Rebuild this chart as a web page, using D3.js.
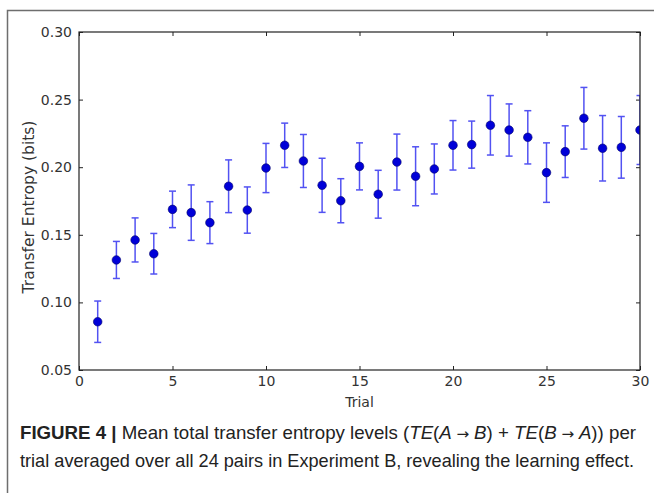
<!DOCTYPE html>
<html>
<head>
<meta charset="utf-8">
<script src="https://cdn.jsdelivr.net/npm/d3@7"></script>
<style>
  body { margin: 0; background: #fff; }
  svg { display: block; }
</style>
</head>
<body>
<div id="chart"></div>
<script>
// data
var trials = [1, 2, 3, 4, 5, 6, 7, 8, 9, 10, 11, 12, 13, 14, 15,
              16, 17, 18, 19, 20, 21, 22, 23, 24, 25, 26, 27, 28, 29, 30];
var meanTE = [0.0857, 0.1314, 0.1462, 0.1360, 0.1688, 0.1664, 0.1590, 0.1859, 0.1683, 0.1994,
              0.2162, 0.2046, 0.1866, 0.1752, 0.2006, 0.1800, 0.2038, 0.1933, 0.1987, 0.2162,
              0.2167, 0.2310, 0.2275, 0.2221, 0.1960, 0.2115, 0.2362, 0.2140, 0.2147, 0.2275];
var errTE = [0.0153, 0.0137, 0.0163, 0.0150, 0.0135, 0.0205, 0.0155, 0.0195, 0.0171, 0.0182,
             0.0164, 0.0196, 0.0200, 0.0163, 0.0174, 0.0177, 0.0207, 0.0218, 0.0185, 0.0183,
             0.0174, 0.0220, 0.0193, 0.0197, 0.0220, 0.0191, 0.0228, 0.0242, 0.0228, 0.0255];
var xTicks = [0, 5, 10, 15, 20, 25, 30];
var yTicks = [0.05, 0.10, 0.15, 0.20, 0.25, 0.30];

var W = 654, H = 493;
var margin = {top: 32, right: 14, bottom: 123, left: 79},
    width = W - margin.left - margin.right,
    height = H - margin.top - margin.bottom;

var svg = d3.select("#chart").append("svg")
    .attr("width", W)
    .attr("height", H);

// outer frame of the figure panel (left + top only)
svg.append("path")
    .attr("d", "M7.5," + H + "V10.5H" + W)
    .attr("fill", "none")
    .attr("stroke", "#6e6e6e")
    .attr("stroke-width", 1.5);

var g = svg.append("g")
    .attr("transform", "translate(" + margin.left + "," + margin.top + ")");

var x = d3.scaleLinear().domain([0, 30]).range([0, width]);
var y = d3.scaleLinear().domain([0.05, 0.30]).range([height, 0]);

var tickFont = "'DejaVu Sans', sans-serif";

// axes, matplotlib classic style: ticks inward on all four sides
function styleAxis(sel, showLabels) {
  sel.select(".domain").remove();
  sel.selectAll(".tick line").attr("stroke", "#222").attr("stroke-width", 1);
  sel.selectAll(".tick text")
    .attr("fill", "#333")
    .style("font-family", tickFont)
    .style("font-size", "14px");
  if (!showLabels) sel.selectAll(".tick text").remove();
}

g.append("g")
    .attr("transform", "translate(0," + height + ")")
    .call(d3.axisBottom(x).tickValues(xTicks).tickSizeInner(-4).tickPadding(6))
    .call(styleAxis, true);
g.append("g")
    .call(d3.axisTop(x).tickValues(xTicks).tickSizeInner(-4))
    .call(styleAxis, false);
g.append("g")
    .call(d3.axisLeft(y).tickValues(yTicks).tickSizeInner(-4).tickPadding(7)
      .tickFormat(d3.format(".2f")))
    .call(styleAxis, true);
g.append("g")
    .attr("transform", "translate(" + width + ",0)")
    .call(d3.axisRight(y).tickValues(yTicks).tickSizeInner(-4))
    .call(styleAxis, false);

// clip so the last point gets cut at the right spine
g.append("clipPath").attr("id", "plotclip")
  .append("rect").attr("width", width).attr("height", height);

var pts = trials.map(function(t, i) { return {t: t, m: meanTE[i], e: errTE[i]}; });
var plot = g.append("g").attr("clip-path", "url(#plotclip)");

var bars = plot.selectAll(".err")
  .data(pts)
  .enter().append("g")
    .attr("class", "err")
    .attr("stroke", "#5252f2")
    .attr("stroke-width", 1.5);
bars.append("line")
    .attr("x1", function(d) { return x(d.t); })
    .attr("x2", function(d) { return x(d.t); })
    .attr("y1", function(d) { return y(d.m - d.e); })
    .attr("y2", function(d) { return y(d.m + d.e); });
bars.append("line")
    .attr("x1", function(d) { return x(d.t) - 3.5; })
    .attr("x2", function(d) { return x(d.t) + 3.5; })
    .attr("y1", function(d) { return y(d.m + d.e); })
    .attr("y2", function(d) { return y(d.m + d.e); });
bars.append("line")
    .attr("x1", function(d) { return x(d.t) - 3.5; })
    .attr("x2", function(d) { return x(d.t) + 3.5; })
    .attr("y1", function(d) { return y(d.m - d.e); })
    .attr("y2", function(d) { return y(d.m - d.e); });

plot.selectAll(".dot")
  .data(pts)
  .enter().append("circle")
    .attr("class", "dot")
    .attr("cx", function(d) { return x(d.t); })
    .attr("cy", function(d) { return y(d.m); })
    .attr("r", 4.3)
    .attr("fill", "#0000d8")
    .attr("stroke", "#00006a")
    .attr("stroke-width", 0.6);

// spines
g.append("rect")
    .attr("width", width).attr("height", height)
    .attr("fill", "none")
    .attr("stroke", "#222")
    .attr("stroke-width", 1.2);

// axis titles
g.append("text")
    .attr("x", width / 2)
    .attr("y", height + 37)
    .attr("text-anchor", "middle")
    .attr("fill", "#333")
    .style("font-family", tickFont)
    .style("font-size", "14px")
    .text("Trial");
g.append("text")
    .attr("transform", "translate(-45," + (height / 2 + 6) + ") rotate(-90)")
    .attr("text-anchor", "middle")
    .attr("fill", "#333")
    .style("font-family", tickFont)
    .style("font-size", "15.5px")
    .text("Transfer Entropy (bits)");

// caption (narrow face: squeeze glyphs to the measured line width)
var capFont = "'Liberation Sans', Arial, sans-serif";
var mathFont = "'DejaVu Sans', sans-serif";
var arrow = "<tspan font-family=\"" + mathFont + "\" font-size='15px'>\u00a0\u2192\u00a0</tspan>";
function captionLine(yPos, str, targetW) {
  var t = svg.append("text")
      .attr("x", 20)
      .attr("y", yPos)
      .attr("fill", "#222")
      .attr("textLength", targetW)
      .attr("lengthAdjust", "spacingAndGlyphs")
      .style("font-family", capFont)
      .style("font-size", "18.5px");
  t.html(str);
  return t;
}
captionLine(439,
  "<tspan font-weight='bold'>FIGURE 4 |\u00a0</tspan>Mean total transfer entropy levels (" +
  "<tspan font-style='italic'>TE</tspan>(<tspan font-style='italic'>A</tspan>" + arrow +
  "<tspan font-style='italic'>B</tspan>)\u00a0+\u00a0<tspan font-style='italic'>TE</tspan>(" +
  "<tspan font-style='italic'>B</tspan>" + arrow +
  "<tspan font-style='italic'>A</tspan>)) per", 616);
captionLine(467,
  "trial averaged over all 24 pairs in Experiment B, revealing the learning effect.", 614);
</script>
</body>
</html>
